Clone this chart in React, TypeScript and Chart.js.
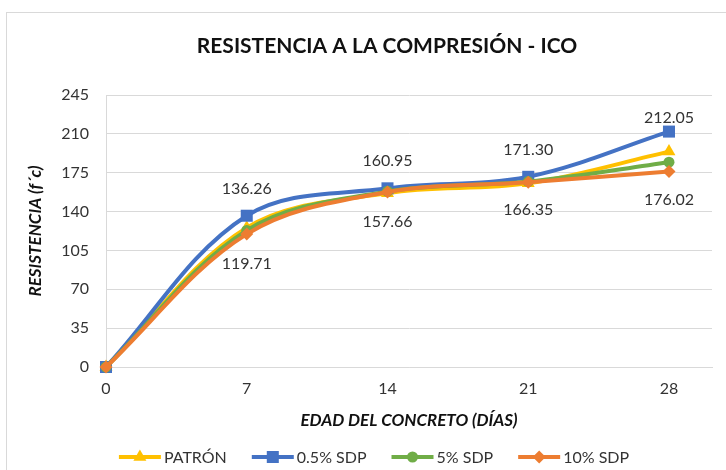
import React, { useEffect, useRef } from 'react';
import { Chart, registerables } from 'chart.js';

Chart.register(...registerables);

// ---- data ----
const days = [0, 7, 14, 21, 28];
const xTickValues = [0, 7, 14, 21, 28];
const yTickValues = [0, 35, 70, 105, 140, 175, 210, 245];
const patron = [0, 125.5, 156.6, 165.4, 194.0];
const sdp05 = [0, 136.26, 160.95, 171.3, 212.05];
const sdp5 = [0, 123.0, 158.2, 167.0, 184.5];
const sdp10 = [0, 119.71, 157.66, 166.35, 176.02];
const seriesNames = ['PATRÓN', '0.5% SDP', '5% SDP', '10% SDP'];
const chartTitle = 'RESISTENCIA A LA COMPRESIÓN - ICO';
const xAxisTitle = 'EDAD DEL CONCRETO (DÍAS)';
const yAxisTitle = 'RESISTENCIA (f´c)';

const FONT = 'Lato, "Noto Sans", sans-serif';
const COLORS = ['#FFC000', '#4472C4', '#70AD47', '#ED7D31'];
const STYLES = ['triangle', 'rect', 'circle', 'rectRot'];
const RADII = [7.5, 8.5, 5.5, 6.5];
const TEXT = '#333333';

function drawMarker(ctx: CanvasRenderingContext2D, style: string, x: number, y: number, r: number, color: string) {
  ctx.save();
  ctx.fillStyle = color;
  ctx.beginPath();
  if (style === 'triangle') {
    ctx.moveTo(x, y - r);
    ctx.lineTo(x + r * 0.866, y + r * 0.5);
    ctx.lineTo(x - r * 0.866, y + r * 0.5);
    ctx.closePath();
  } else if (style === 'rect') {
    const s = r * Math.SQRT1_2;
    ctx.rect(x - s, y - s, 2 * s, 2 * s);
  } else if (style === 'circle') {
    ctx.arc(x, y, r, 0, Math.PI * 2);
  } else {
    ctx.moveTo(x, y - r);
    ctx.lineTo(x + r, y);
    ctx.lineTo(x, y + r);
    ctx.lineTo(x - r, y);
    ctx.closePath();
  }
  ctx.fill();
  ctx.restore();
}

const decorPlugin = {
  id: 'decor',
  afterDatasetsDraw(chart: any) {
    const ctx: CanvasRenderingContext2D = chart.ctx;
    ctx.save();
    ctx.font = `16px ${FONT}`;
    ctx.fillStyle = TEXT;
    ctx.textAlign = 'center';
    ctx.textBaseline = 'middle';
    const aboveOff = [0, -27, -27, -27, -14];
    const belowOff = [0, 30, 30, 28, 28];
    const drawLabels = (dsIndex: number, offs: number[]) => {
      const meta = chart.getDatasetMeta(dsIndex);
      const data = chart.data.datasets[dsIndex].data as any[];
      for (let i = 1; i < data.length; i++) {
        const p = meta.data[i];
        ctx.fillText(Number(data[i].y).toFixed(2), p.x, p.y + offs[i]);
      }
    };
    drawLabels(1, aboveOff);
    drawLabels(3, belowOff);
    ctx.restore();
  },
  afterDraw(chart: any) {
    const ctx: CanvasRenderingContext2D = chart.ctx;
    const area = chart.chartArea;
    ctx.save();
    // title
    ctx.fillStyle = '#111111';
    ctx.textAlign = 'center';
    ctx.textBaseline = 'middle';
    ctx.font = `bold 21px ${FONT}`;
    ctx.fillText(chartTitle, 387, 46);
    // axis titles
    ctx.font = `italic bold 17px ${FONT}`;
    ctx.fillText(xAxisTitle, (area.left + area.right) / 2, 421);
    ctx.save();
    ctx.translate(36, (area.top + area.bottom) / 2);
    ctx.rotate(-Math.PI / 2);
    ctx.fillText(yAxisTitle, 0, 0);
    ctx.restore();
    // legend
    ctx.font = `16px ${FONT}`;
    ctx.textAlign = 'left';
    const lineLen = 42;
    const gapText = 3;
    const gapItem = 25;
    const widths = chart.data.datasets.map((d: any) => ctx.measureText(d.label).width);
    let total = 0;
    widths.forEach((w: number, i: number) => {
      total += lineLen + gapText + w + (i < widths.length - 1 ? gapItem : 0);
    });
    let x = 374 - total / 2;
    const y = 457;
    chart.data.datasets.forEach((d: any, i: number) => {
      ctx.strokeStyle = d.borderColor;
      ctx.lineWidth = 4;
      ctx.beginPath();
      ctx.moveTo(x, y);
      ctx.lineTo(x + lineLen, y);
      ctx.stroke();
      drawMarker(ctx, d.pointStyle, x + lineLen / 2, y, d.pointRadius, d.borderColor);
      ctx.fillStyle = TEXT;
      ctx.fillText(d.label, x + lineLen + gapText, y + 1);
      x += lineLen + gapText + widths[i] + gapItem;
    });
    ctx.restore();
  },
};

export default function App() {
  const ref = useRef<HTMLCanvasElement>(null);
  useEffect(() => {
    if (!ref.current) return;
    const seriesData = [patron, sdp05, sdp5, sdp10];
    const chart = new Chart(ref.current, {
      type: 'line',
      data: {
        datasets: seriesData.map((vals, i) => ({
          label: seriesNames[i],
          data: vals.map((v, j) => ({ x: days[j], y: v })) as any,
          borderColor: COLORS[i],
          backgroundColor: COLORS[i],
          borderWidth: 4,
          pointStyle: STYLES[i] as any,
          pointRadius: RADII[i],
          pointBorderWidth: 0,
          pointHoverRadius: RADII[i],
          tension: 0.35,
          clip: false as any,
          order: 3 - i,
        })),
      },
      options: {
        responsive: false,
        animation: false,
        devicePixelRatio: 1,
        layout: { padding: { top: 95, right: 14, bottom: 73, left: 0 } },
        plugins: {
          legend: { display: false },
          title: { display: false },
          tooltip: { enabled: false },
        },
        scales: {
          x: {
            type: 'linear',
            min: 0,
            max: 30.14,
            afterBuildTicks: (s: any) => {
              s.ticks = xTickValues.map((v) => ({ value: v }));
            },
            afterFit: (s: any) => {
              s.height = 30;
            },
            grid: { display: false, drawTicks: false },
            border: { display: true, color: '#d9d9d9', width: 1 },
            ticks: {
              font: { family: FONT, size: 16 },
              color: TEXT,
              padding: 12,
              maxRotation: 0,
              autoSkip: false,
            },
          },
          y: {
            type: 'linear',
            min: 0,
            max: 245,
            afterBuildTicks: (s: any) => {
              s.ticks = yTickValues.map((v) => ({ value: v }));
            },
            afterFit: (s: any) => {
              s.width = 106;
            },
            grid: { color: '#d9d9d9', lineWidth: 1, drawTicks: false },
            border: { display: true, color: '#d9d9d9', width: 1 },
            ticks: {
              font: { family: FONT, size: 16 },
              color: TEXT,
              padding: 17,
            },
          },
        },
      },
      plugins: [decorPlugin],
    });
    return () => chart.destroy();
  }, []);

  return (
    <div style={{ position: 'fixed', left: 0, top: 0, width: 726, height: 470, overflow: 'hidden', background: '#fff' }}>
      <div
        style={{
          position: 'absolute',
          left: 6,
          top: 12,
          width: 900,
          height: 700,
          border: '1px solid #d9d9d9',
          boxSizing: 'border-box',
        }}
      />
      <canvas ref={ref} width={726} height={470} style={{ position: 'absolute', left: 0, top: 0, width: 726, height: 470 }} />
    </div>
  );
}
